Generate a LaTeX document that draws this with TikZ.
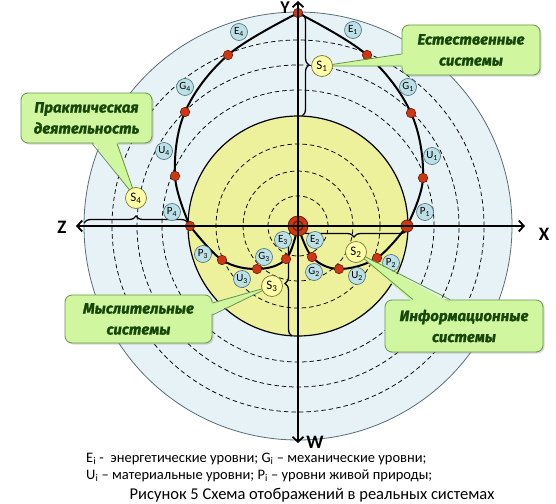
\documentclass[tikz,border=0pt]{standalone}
\usepackage{fontspec}
\setmainfont{Carlito}
\newfontfamily\callfont{Fira Sans}[BoldItalicFeatures={FakeBold=1.2}]
\usetikzlibrary{decorations.pathreplacing,arrows.meta,calc,shadows}

\definecolor{outerfill}{RGB}{230,242,246}
\definecolor{outerdraw}{RGB}{90,110,120}
\definecolor{yelfill}{RGB}{238,241,156}
\definecolor{dotred}{RGB}{205,55,20}
\definecolor{dotdark}{RGB}{110,25,5}
\definecolor{lvlfill}{RGB}{188,224,230}
\definecolor{lvldraw}{RGB}{70,105,115}
\definecolor{sysfill}{RGB}{255,255,168}
\definecolor{sysdraw}{RGB}{120,120,50}
\definecolor{callfill}{RGB}{208,246,160}
\definecolor{calldraw}{RGB}{100,150,70}
\definecolor{calltext}{RGB}{22,70,8}

\begin{document}
\begin{tikzpicture}[x=1pt,y=-1pt,
  reddot/.style={circle,fill=dotred,draw=dotdark,line width=0.6pt,inner sep=0pt,minimum size=9.5pt},
  bigdot/.style={circle,fill=dotred,draw=dotdark,line width=0.8pt,inner sep=0pt,minimum size=12pt},
  lvl/.style={circle,fill=lvlfill,draw=lvldraw,line width=0.6pt,inner sep=0pt,minimum size=17pt,font=\fontsize{11}{11}\selectfont},
  sys/.style={circle,fill=sysfill,draw=sysdraw,line width=0.7pt,inner sep=0pt,minimum size=21pt,font=\fontsize{13}{13}\selectfont},
  callbox/.style={rounded corners=7pt,fill=callfill,draw=calldraw,line width=0.8pt,align=center,text=calltext,font=\callfont\bfseries\itshape\fontsize{15}{21}\selectfont,inner sep=0pt,drop shadow={shadow xshift=1.5pt,shadow yshift=-1.5pt,opacity=0.3}},
  wedgeline/.style={draw=calldraw,line width=0.8pt},
  ring/.style={dash pattern=on 4.5pt off 3pt,line width=0.75pt},
  curveline/.style={line width=2pt,line join=round},
  bracestyle/.style={decorate,decoration={brace,amplitude=7pt},line width=1.3pt},
  axisline/.style={line width=1.8pt},
  axlabel/.style={font=\bfseries\fontsize{19}{19}\selectfont,inner sep=0pt,anchor=base},
  legend/.style={font=\fontsize{14.5}{14.5}\selectfont,inner sep=0pt,anchor=base west}
]
\useasboundingbox (0,0) rectangle (556,503);
\fill[white] (0,0) rectangle (556,503);

\coordinate (C) at (298,226);
% background discs
\fill[outerfill] (C) circle[radius=214pt];
\draw[outerdraw,line width=0.8pt] (C) circle[radius=214pt];
\foreach \r in {136,161,186} \draw[ring] (C) circle[radius=\r pt];
\fill[yelfill] (C) circle[radius=110pt];
\draw[line width=1.2pt] (C) circle[radius=110pt];
\foreach \r in {30,55,82} \draw[ring] (C) circle[radius=\r pt];

% curve points
\coordinate (top) at (298,13);
\coordinate (r1) at (367,55);
\coordinate (r2) at (411,113);
\coordinate (r3) at (423,178);
\coordinate (rx) at (407,226);
\coordinate (l1) at (228,55);
\coordinate (l2) at (185,112);
\coordinate (l3) at (175,176);
\coordinate (lx) at (190,226);
\coordinate (d1) at (222,260);
\coordinate (d2) at (257,269);
\coordinate (d3) at (286,259);
\coordinate (d4) at (312,257);
\coordinate (d5) at (339,269);
\coordinate (d6) at (377,258);

% braces
\coordinate (b1a) at (302,14);
\coordinate (b1b) at (302,116);
\coordinate (b4a) at (84,223);
\coordinate (b4b) at (188,223);
\coordinate (b2a) at (407,230);
\coordinate (b2b) at (301,230);
\coordinate (b3a) at (292,336);
\coordinate (b3b) at (292,231);
\draw[bracestyle] (b1a) -- (b1b);
\draw[bracestyle] (b4a) -- (b4b);
\draw[bracestyle] (b2a) -- (b2b);
\draw[bracestyle] (b3a) -- (b3b);

% curves
\draw[curveline] plot[smooth,tension=0.6] coordinates {(top) (r1) (r2) (r3) (rx)};
\draw[curveline] plot[smooth,tension=0.6] coordinates {(top) (l1) (l2) (l3) (lx)};
\draw[curveline] plot[smooth,tension=0.6] coordinates {(lx) (d1) (d2) (d3) (C)};
\draw[curveline] plot[smooth,tension=0.6] coordinates {(C) (d4) (d5) (d6) (rx)};

% dots
\node[reddot] (ntop) at (top) {};
\node[reddot] (nr1) at (r1) {};
\node[reddot] (nr2) at (r2) {};
\node[reddot] (nr3) at (r3) {};
\node[reddot] (nl1) at (l1) {};
\node[reddot] (nl2) at (l2) {};
\node[reddot] (nl3) at (l3) {};
\node[reddot] (nlx) at (lx) {};
\node[reddot] (nd1) at (d1) {};
\node[reddot] (nd2) at (d2) {};
\node[reddot] (nd3) at (d3) {};
\node[reddot] (nd4) at (d4) {};
\node[reddot] (nd5) at (d5) {};
\node[reddot] (nd6) at (d6) {};
\node[bigdot] (nrx) at (rx) {};
\node[circle,fill=dotred,draw=dotdark,line width=0.8pt,inner sep=0pt,minimum size=20pt] (origin) at (C) {};
\draw[dotdark,line width=1.2pt] (origin.center) circle[radius=5pt];

% axes
\coordinate (zend) at (76,226);
\coordinate (xend) at (525,226);
\coordinate (yend) at (298,1);
\coordinate (wend) at (298,443);
\draw[axisline,{Straight Barb[length=5pt,width=11pt]}-{Straight Barb[length=5pt,width=11pt]}] (zend) -- (xend);
\draw[axisline,{Straight Barb[length=5pt,width=11pt]}-{Straight Barb[length=5pt,width=11pt]}] (yend) -- (wend);
\node[axlabel,font=\bfseries\fontsize{18}{18}\selectfont] (ly) at (285,13.5) {Y};
\node[axlabel] (lxl) at (544,240) {X};
\node[axlabel] (lz) at (62,233) {Z};
\node[axlabel] (lw) at (315,448) {W};

% level labels
\node[lvl] (E1) at (353,30) {E\textsubscript{1}};
\node[lvl] (E4) at (239,32) {E\textsubscript{4}};
\node[lvl] (G1) at (408,87) {G\textsubscript{1}};
\node[lvl] (G4) at (185,87) {G\textsubscript{4}};
\node[lvl] (U1) at (432,156) {U\textsubscript{1}};
\node[lvl] (U4) at (164,151) {U\textsubscript{4}};
\node[lvl] (P1) at (425,212) {P\textsubscript{1}};
\node[lvl] (P4) at (172,212) {P\textsubscript{4}};
\node[lvl] (E3) at (283,240) {E\textsubscript{3}};
\node[lvl] (E2) at (315,240) {E\textsubscript{2}};
\node[lvl] (G3) at (264,257) {G\textsubscript{3}};
\node[lvl] (G2) at (314,272) {G\textsubscript{2}};
\node[lvl] (U3) at (242,279) {U\textsubscript{3}};
\node[lvl] (U2) at (357,276) {U\textsubscript{2}};
\node[lvl] (P3) at (203,254) {P\textsubscript{3}};
\node[lvl] (P2) at (391,263) {P\textsubscript{2}};

% system centres
\coordinate (s1c) at (322,66);
\coordinate (s2c) at (356,252);
\coordinate (s3c) at (272,286);
\coordinate (s4c) at (136,198);

% callouts
\node[callbox,minimum width=138pt,minimum height=50pt] (ce) at (471,50) {Естественные\\системы};
\fill[callfill] ($(ce.west)+(3,4)$) -- (s1c) -- ($(ce.west)+(3,16)$) -- cycle;
\draw[wedgeline] ($(ce.west)+(0,4)$) -- (s1c) -- ($(ce.west)+(0,16)$);

\node[callbox,minimum width=131pt,minimum height=50pt] (cp) at (86.5,118) {Практическая\\деятельность};
\fill[callfill] ($(cp.south)+(5.5,-3)$) -- (s4c) -- ($(cp.south)+(30.5,-3)$) -- cycle;
\draw[wedgeline] ($(cp.south)+(5.5,0)$) -- (s4c) -- ($(cp.south)+(30.5,0)$);

\node[callbox,minimum width=147pt,minimum height=48pt] (cm) at (138.5,319) {Мыслительные\\системы};
\fill[callfill] ($(cm.east)+(-3,-16)$) -- (s3c) -- ($(cm.east)+(-3,-4)$) -- cycle;
\draw[wedgeline] ($(cm.east)+(0,-16)$) -- (s3c) -- ($(cm.east)+(0,-4)$);

\node[callbox,minimum width=158pt,minimum height=52pt] (ci) at (464,326) {Информационные\\системы};
\fill[callfill] ($(ci.north)+(-51,3)$) -- (s2c) -- ($(ci.north)+(-14,3)$) -- cycle;
\draw[wedgeline] ($(ci.north)+(-51,0)$) -- (s2c) -- ($(ci.north)+(-14,0)$);

% system labels
\node[sys] (S1) at (s1c) {S\textsubscript{1}};
\node[sys] (S2) at (s2c) {S\textsubscript{2}};
\node[sys] (S3) at (s3c) {S\textsubscript{3}};
\node[sys] (S4) at (s4c) {S\textsubscript{4}};

% legend
\node[legend] (leg1) at (86,462) {E\textsubscript{i} -\ \ энергетические уровни; G\textsubscript{i} – механические уровни;};
\node[legend] (leg2) at (86,479) {U\textsubscript{i} – материальные уровни; P\textsubscript{i} – уровни живой природы;};
\node[legend,font=\fontsize{16.5}{16.5}\selectfont,anchor=base] (cap) at (312,499) {Рисунок 5 Схема отображений в реальных системах};
\end{tikzpicture}
\end{document}
